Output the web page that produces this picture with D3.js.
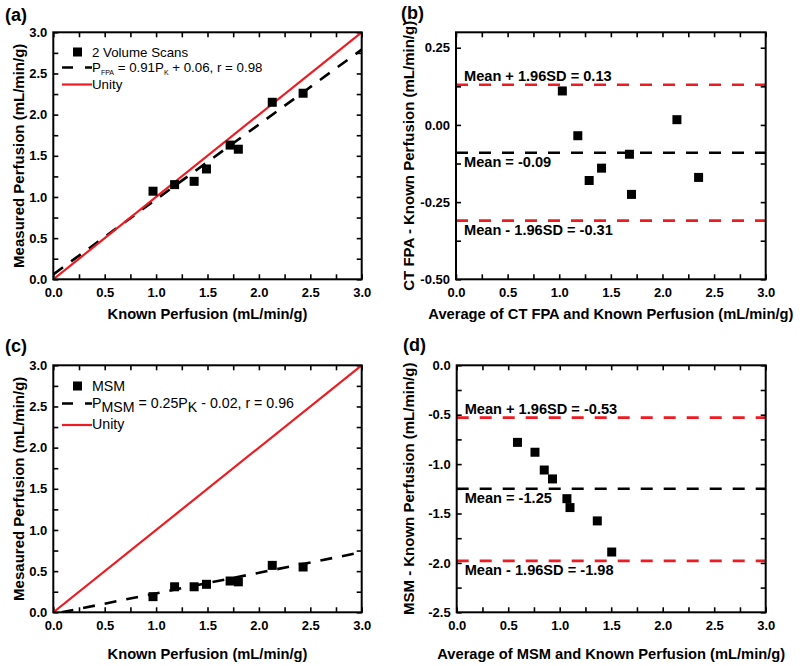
<!DOCTYPE html>
<html><head><meta charset="utf-8">
<script src="https://cdn.jsdelivr.net/npm/d3@7"></script>
<style>body{margin:0;background:#fff} svg{display:block}</style>
</head><body><svg id="c" width="800" height="666"></svg>
<script>
// ---------- data ----------
const knownPerfusion = [0.97, 1.18, 1.37, 1.49, 1.72, 1.80, 2.13, 2.43];
const fpaPerfusion   = [1.07, 1.15, 1.19, 1.34, 1.63, 1.58, 2.15, 2.26];
const msmPerfusion   = [0.19, 0.31, 0.31, 0.34, 0.38, 0.37, 0.57, 0.55];
const fpaFitLine = [[0, 0.06], [3, 2.79]];
const msmFitLine = [[0.08, 0], [3, 0.73]];
const unityLine  = [[0, 0], [3, 3]];

const avgFpa  = [1.03, 1.18, 1.29, 1.41, 1.68, 1.70, 2.14, 2.35];
const diffFpa = [0.11, -0.035, -0.18, -0.14, -0.095, -0.225, 0.017, -0.17];
const fpaStats = {upper: 0.13, mean: -0.09, lower: -0.31};

const avgMsm  = [0.59, 0.76, 0.85, 0.93, 1.07, 1.10, 1.365, 1.505];
const diffMsm = [-0.78, -0.88, -1.06, -1.15, -1.35, -1.44, -1.575, -1.89];
const msmStats = {upper: -0.53, mean: -1.25, lower: -1.98};

const xTicks03 = d3.range(0, 3.001, 0.25);
const yTicksB  = d3.range(-0.5, 0.3001, 0.125);
const yTicksD  = d3.range(-2.5, 0.001, 0.25);

// ---------- drawing ----------
const svg = d3.select("#c");
const RED = "#ee1b22";
const FONT = '"Liberation Sans", Arial, Helvetica, sans-serif';
const defs = svg.append("defs");

function isMult(d, m) { return Math.abs(d / m - Math.round(d / m)) < 1e-9; }

function makePanel(p) {
  const x = d3.scaleLinear().domain(p.xDomain).range([p.left, p.right]);
  const y = d3.scaleLinear().domain(p.yDomain).range([p.bottom, p.top]);
  const g = svg.append("g");
  defs.append("clipPath").attr("id", "clip" + p.id).append("rect")
    .attr("x", p.left).attr("y", p.top).attr("width", p.right - p.left).attr("height", p.bottom - p.top);

  const axes = [
    [d3.axisBottom(x).tickValues(p.xTicks).tickFormat(d => isMult(d, p.xMajor) ? d.toFixed(p.xDec) : "").tickPadding(8), `translate(0,${p.bottom})`],
    [d3.axisTop(x).tickValues(p.xTicks).tickFormat(""), `translate(0,${p.top})`],
    [d3.axisLeft(y).tickValues(p.yTicks).tickFormat(d => isMult(d, p.yMajor) ? (Math.abs(d) < 1e-9 ? 0 : d).toFixed(p.yDec) : "").tickPadding(6), `translate(${p.left},0)`],
    [d3.axisRight(y).tickValues(p.yTicks).tickFormat(""), `translate(${p.right},0)`]
  ];
  axes.forEach(([ax, tr]) => {
    const a = g.append("g").attr("transform", tr).call(ax.tickSizeInner(-5).tickSizeOuter(0));
    a.select(".domain").remove();
    a.selectAll(".tick line").attr("stroke", "#000").attr("stroke-width", 1.6);
    a.selectAll(".tick text").attr("font-family", FONT).attr("font-size", 13).attr("font-weight", "bold").attr("fill", "#000");
  });

  const plot = g.append("g").attr("clip-path", `url(#clip${p.id})`);

  g.append("text").attr("x", (p.left + p.right) / 2).attr("y", p.xTitleY)
    .attr("text-anchor", "middle").attr("font-family", FONT).attr("font-size", 14.7).attr("font-weight", "bold")
    .text(p.xTitle);
  g.append("text").attr("transform", `translate(${p.yTitleX},${(p.top + p.bottom) / 2}) rotate(-90)`)
    .attr("text-anchor", "middle").attr("font-family", FONT).attr("font-size", 15).attr("font-weight", "bold")
    .text(p.yTitle);
  g.append("text").attr("x", p.tagX).attr("y", p.tagY).attr("font-family", FONT).attr("font-size", 18).attr("font-weight", "bold")
    .text(p.tag);

  return {x, y, g, plot, p};
}

function frame(P) {
  const p = P.p;
  P.g.append("rect").attr("x", p.left).attr("y", p.top).attr("width", p.right - p.left).attr("height", p.bottom - p.top)
    .attr("fill", "none").attr("stroke", "#000").attr("stroke-width", 2);
}

function squares(P, xs, ys) {
  P.g.append("g").selectAll("rect").data(xs.map((d, i) => [d, ys[i]])).join("rect")
    .attr("x", d => P.x(d[0]) - 4.5).attr("y", d => P.y(d[1]) - 4.5)
    .attr("width", 9).attr("height", 9).attr("fill", "#000");
}

function line(P, pts, color, dash, w) {
  const l = d3.line().x(d => P.x(d[0])).y(d => P.y(d[1]));
  P.plot.append("path").attr("d", l(pts)).attr("fill", "none").attr("stroke", color)
    .attr("stroke-width", w).attr("stroke-dasharray", dash);
}

function hline(P, v, color) {
  const [x0, x1] = P.x.domain();
  line(P, [[x0, v], [x1, v]], color, "12,11", 2.6);
}

function blandLabels(P, st) {
  const xx = P.p.left + 8;
  const lab = (v, dy, t) => P.g.append("text").attr("x", xx).attr("y", P.y(v) + dy)
    .attr("font-family", FONT).attr("font-size", 14.6).attr("font-weight", "bold").text(t);
  lab(st.upper, -4, `Mean + 1.96SD = ${st.upper.toFixed(2)}`);
  lab(st.mean, 14, `Mean = ${st.mean.toFixed(2)}`);
  lab(st.lower, 14, `Mean - 1.96SD = ${st.lower.toFixed(2)}`);
}

function legend(P, y0, name, eq, fs, subSize, subDy, gap1, gap2) {
  const lx0 = 62, lx1 = 92, tx = 92;
  const g = P.g.append("g");
  g.append("rect").attr("x", 73).attr("y", y0 - 9.5).attr("width", 9).attr("height", 9).attr("fill", "#000");
  g.append("text").attr("x", tx).attr("y", y0).attr("font-family", FONT).attr("font-size", fs).text(name);
  const y1 = y0 + gap1;
  g.append("line").attr("x1", lx0).attr("x2", lx1).attr("y1", y1 - 4.5).attr("y2", y1 - 4.5)
    .attr("stroke", "#000").attr("stroke-width", 2.6).attr("stroke-dasharray", "11,12");
  const t = g.append("text").attr("x", tx).attr("y", y1).attr("font-family", FONT).attr("font-size", fs);
  let prevSub = false;
  eq.forEach(([s, sub]) => {
    const isSub = !!sub;
    const dy = isSub && !prevSub ? subDy : (!isSub && prevSub ? -subDy : 0);
    const ts = t.append("tspan").attr("dy", dy).text(s);
    if (isSub) ts.attr("font-size", subSize);
    prevSub = isSub;
  });
  const y2 = y1 + gap2;
  g.append("line").attr("x1", lx0).attr("x2", lx1).attr("y1", y2 - 4).attr("y2", y2 - 4)
    .attr("stroke", RED).attr("stroke-width", 2.2);
  g.append("text").attr("x", tx).attr("y", y2).attr("font-family", FONT).attr("font-size", fs).text("Unity");
}

// Panel (a)
const A = makePanel({id: "a", left: 53.3, right: 361.7, top: 32.3, bottom: 279.3, xDomain: [0, 3], yDomain: [0, 3],
  xTicks: xTicks03, yTicks: xTicks03, xMajor: 0.5, yMajor: 0.5, xDec: 1, yDec: 1,
  xTitle: "Known Perfusion (mL/min/g)", yTitle: "Measured Perfusion (mL/min/g)", xTitleY: 319, yTitleX: 24,
  tag: "(a)", tagX: 5, tagY: 21});
line(A, fpaFitLine, "#000", "12,10", 2.6);
line(A, unityLine, RED, null, 2.2);
squares(A, knownPerfusion, fpaPerfusion);
frame(A);
legend(A, 57, "2 Volume Scans", [["P"], ["FPA", 1], [" = 0.91P"], ["K", 1], [" + 0.06, r = 0.98"]], 13.3, 7, 3, 15, 16.5);

// Panel (b)
const B = makePanel({id: "b", left: 456, right: 765.7, top: 32.3, bottom: 279.3, xDomain: [0, 3], yDomain: [-0.5, 0.3],
  xTicks: xTicks03, yTicks: yTicksB, xMajor: 0.5, yMajor: 0.25, xDec: 1, yDec: 2,
  xTitle: "Average of CT FPA and Known Perfusion (mL/min/g)", yTitle: "CT FPA - Known Perfusion (mL/min/g)", xTitleY: 319, yTitleX: 414,
  tag: "(b)", tagX: 401, tagY: 19});
hline(B, fpaStats.upper, RED);
hline(B, fpaStats.mean, "#000");
hline(B, fpaStats.lower, RED);
squares(B, avgFpa, diffFpa);
frame(B);
blandLabels(B, fpaStats);

// Panel (c)
const C = makePanel({id: "c", left: 53.3, right: 361.7, top: 365.3, bottom: 612.3, xDomain: [0, 3], yDomain: [0, 3],
  xTicks: xTicks03, yTicks: xTicks03, xMajor: 0.5, yMajor: 0.5, xDec: 1, yDec: 1,
  xTitle: "Known Perfusion (mL/min/g)", yTitle: "Mesaured Perfusion (mL/min/g)", xTitleY: 659, yTitleX: 24,
  tag: "(c)", tagX: 5, tagY: 352});
line(C, msmFitLine, "#000", "12,10", 2.6);
line(C, unityLine, RED, null, 2.2);
squares(C, knownPerfusion, msmPerfusion);
frame(C);
legend(C, 391, "MSM", [["P"], ["MSM", 1], [" = 0.25P"], ["K", 1], [" - 0.02, r = 0.96"]], 14.2, 14.2, 4, 17, 21);

// Panel (d)
const D = makePanel({id: "d", left: 456.7, right: 765.7, top: 365.3, bottom: 612.3, xDomain: [0, 3], yDomain: [-2.5, 0],
  xTicks: xTicks03, yTicks: yTicksD, xMajor: 0.5, yMajor: 0.5, xDec: 1, yDec: 1,
  xTitle: "Average of MSM and Known Perfusion (mL/min/g)", yTitle: "MSM - Known Perfusion (mL/min/g)", xTitleY: 659, yTitleX: 414,
  tag: "(d)", tagX: 403, tagY: 351});
hline(D, msmStats.upper, RED);
hline(D, msmStats.mean, "#000");
hline(D, msmStats.lower, RED);
squares(D, avgMsm, diffMsm);
frame(D);
blandLabels(D, msmStats);
</script>
</body></html>
